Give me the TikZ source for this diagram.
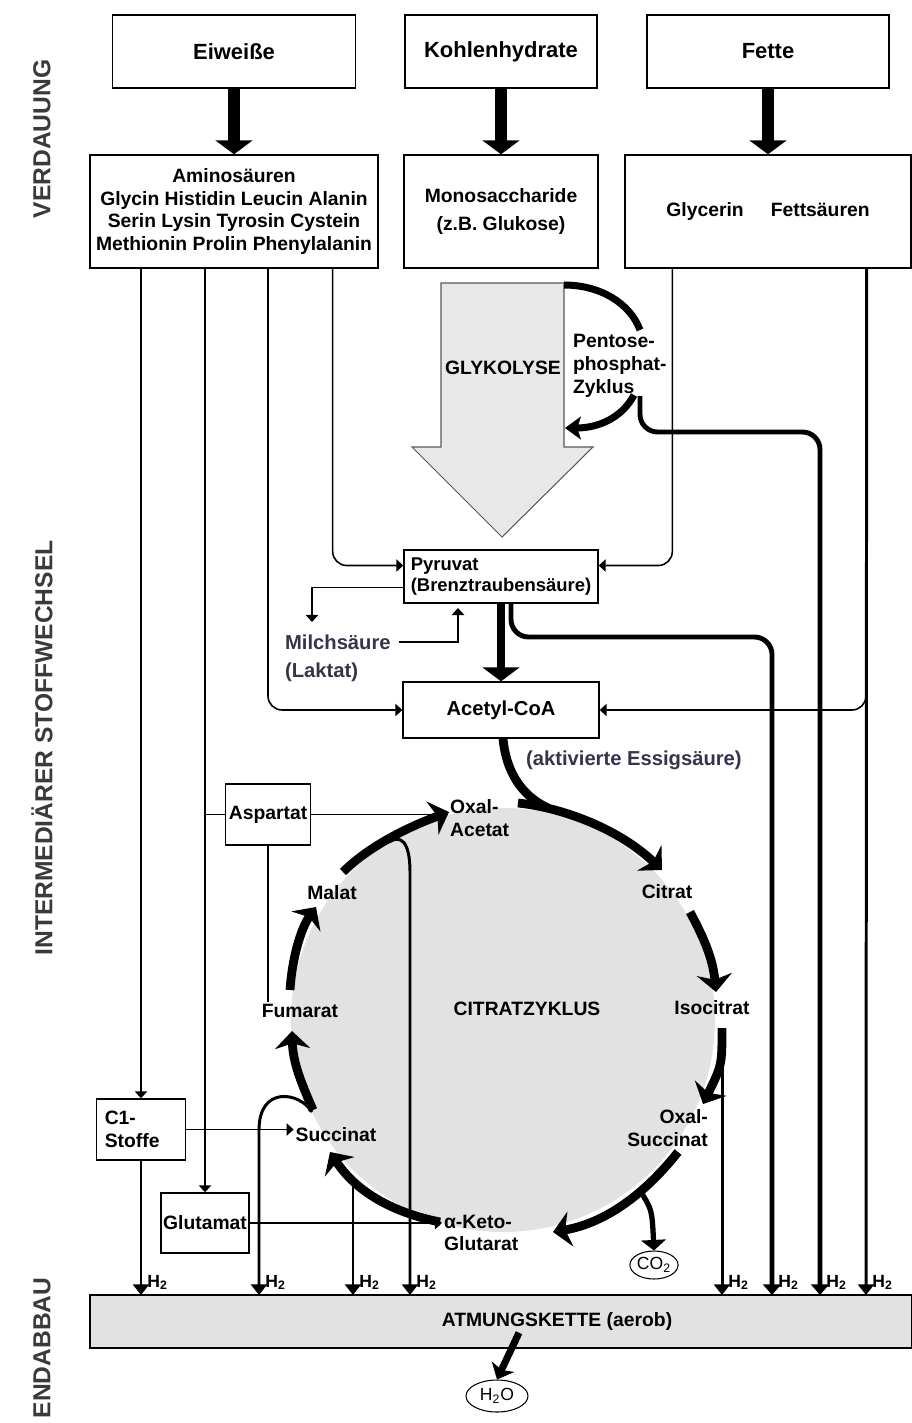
\documentclass[tikz,border=0pt]{standalone}
\usepackage{fontspec}
\setmainfont{Liberation Sans}
\usetikzlibrary{arrows.meta,shapes.geometric,calc}

\definecolor{cyclegray}{HTML}{E2E2E2}
\definecolor{glykgray}{HTML}{E8E8E8}
\definecolor{inkblue}{HTML}{34344A}
\definecolor{sidegray}{HTML}{3A3A3A}

\tikzset{
  lab/.style={font=\bfseries\fontsize{11}{13}\selectfont, inner sep=1pt},
  box/.style={draw, fill=white, line width=0.8pt, lab, align=center},
  topbox/.style={box, font=\bfseries\fontsize{12.5}{14}\selectfont, minimum height=1.46cm},
  thinline/.style={line width=0.9pt, -{Triangle[length=4pt,width=7pt]}},
  hline/.style={line width=1.7pt, -{Triangle[length=6pt,width=9pt]}},
  hthick/.style={line width=2.8pt, -{Triangle[length=6pt,width=10pt]}},
  bigarrow/.style={line width=6.5pt, -{Triangle[length=8pt,width=21pt]}},
  cyclearrow/.style={line width=5pt, -{Stealth[length=10pt,width=20pt,inset=3pt]}},
  sidelab/.style={font=\bfseries\fontsize{14}{16}\selectfont, text=sidegray, rotate=90},
  htext/.style={font=\bfseries\fontsize{10}{12}\selectfont, inner sep=0pt},
  gas/.style={draw, ellipse, line width=0.6pt, inner sep=0pt, font=\fontsize{10}{12}\selectfont}
}

\begin{document}
\begin{tikzpicture}[x=0.02cm,y=-0.02cm]
\useasboundingbox (0,0) rectangle (912,1423);

% side labels
\node [sidelab] (verd) at (42,139) {VERDAUUNG};
\node [sidelab] (inter) at (42,748) {INTERMEDIÄRER STOFFWECHSEL};
\node [sidelab] (endab) at (42,1348) {ENDABBAU};

% Verdauung
\node [topbox, minimum width=4.86cm] (eiw) at (234,51.5) {Eiweiße};
\node [topbox, minimum width=3.84cm] (kohl) at (501,51.5) {Kohlenhydrate};
\node [topbox, minimum width=4.84cm] (fett) at (768,51.5) {Fette};

\node [box, minimum width=5.76cm, minimum height=2.26cm] (amino) at (234,211.5) {Aminosäuren\\Glycin Histidin Leucin Alanin\\Serin Lysin Tyrosin Cystein\\Methionin Prolin Phenylalanin};
\node [box, minimum width=3.88cm, minimum height=2.26cm, font=\bfseries\fontsize{11}{16.5}\selectfont] (mono) at (501,211.5) {Monosaccharide\\(z.B. Glukose)};
\node [box, minimum width=5.72cm, minimum height=2.26cm] (glyc) at (768,211.5) {Glycerin\hspace{1.4em}Fettsäuren};

\draw [bigarrow] (eiw.south) -- (amino.north);
\draw [bigarrow] (kohl.south) -- (mono.north);
\draw [bigarrow] (fett.south) -- (glyc.north);

% Glykolyse
\draw [draw=gray!70!black, fill=glykgray, line width=0.6pt] (441,283) -- (564,283) -- (564,447) -- (593,447) -- (502,537) -- (412,447) -- (441,447) -- cycle;
\node [lab] (glyk) at (503,368) {GLYKOLYSE};
\node [lab, align=left, anchor=west] (ppz) at (571,366) {Pentose-\\phosphat-\\Zyklus};
\draw [line width=4pt] (564,285) .. controls (600,285) and (630,303) .. (640,330);
\draw [line width=4pt, -{Stealth[length=9pt,width=13pt,inset=2pt]}] (634,395) .. controls (622,418) and (598,428) .. (565,428);

% Pyruvat, Acetyl-CoA
\node [box, minimum width=3.88cm, minimum height=1.06cm, align=left, font=\bfseries\fontsize{10.5}{12}\selectfont] (pyr) at (501,576.5) {Pyruvat\\(Brenztraubensäure)};
\node [box, minimum width=3.92cm, minimum height=1.12cm, font=\bfseries\fontsize{11.5}{13}\selectfont] (acet) at (501,710) {Acetyl-CoA};
\draw [bigarrow, line width=5pt] (pyr.south) -- (acet.north);

\node [lab, text=inkblue, font=\bfseries\fontsize{11.5}{13}\selectfont, anchor=west] (milch) at (283,642) {Milchsäure};
\node [lab, text=inkblue, font=\bfseries\fontsize{11.5}{13}\selectfont, anchor=west] (lakt) at (283,672) {(Laktat)};
\node [lab, text=inkblue, font=\bfseries\fontsize{11.5}{13}\selectfont, anchor=west] (essig) at (524,760) {(aktivierte Essigsäure)};
\coordinate (milchin) at (312,622);
\coordinate (pyrin) at (458,608);
\draw [thinline] ($(pyr.west)+(0,11)$) -| (milchin);
\draw [thinline] ($(milch.east)+(6,0)$) -| (pyrin);

% side boxes
\node [box, minimum width=1.7cm, minimum height=1.22cm] (asp) at (268,814.5) {Aspartat};
\node [box, align=left, text width=1.45cm, minimum height=1.22cm, inner xsep=0.16cm] (cone) at (141,1129.5) {C1-\\Stoffe};
\node [box, minimum width=1.76cm, minimum height=1.2cm] (glut) at (205,1223) {Glutamat};

% H2 ends on the Atmungskette
\foreach \n/\x in {A/141,B/259,C/353,D/410,E/722,F/772,G/820,H/866} {
  \coordinate (h\n) at (\x,1295);
  \node [htext, anchor=south west] (hl\n) at (\x+6,1290) {H\textsubscript{2}};
}

% lines from Aminosaeuren
\draw [thinline] (amino.south -| cone.north) -- (cone.north);
\draw [thinline] (amino.south -| glut.north) -- (glut.north);
\draw [line width=0.9pt] (asp.west -| glut.north) -- (asp.west);
\draw [thinline, rounded corners=8pt] (amino.south -| asp.south) |- (acet.west);
\draw [thinline, rounded corners=8pt] ($(amino.south east)+(-46,0)$) |- ($(pyr.west)+(0,-11)$);

% lines from Glycerin/Fettsaeuren
\coordinate (fettbr) at (866,688);
\draw [thinline, rounded corners=8pt] ($(glyc.south west)+(48,0)$) |- ($(pyr.east)+(0,-11)$);
\draw [hline] ($(glyc.south east)+(-45,0)$) -- (hH);
\draw [thinline, rounded corners=8pt] (fettbr) |- (acet.east);

% Pentose and Pyruvat to H2
\coordinate (ppzend) at (640,396);
\draw [hthick, rounded corners=10pt] (ppzend) |- (820,432) -- (hG);
\draw [hthick, rounded corners=10pt] ($(pyr.south)+(10,0)$) |- (772,637) -- (hF);

% Citratzyklus
\fill [cyclegray] (503,1020) circle [radius=212];
\node [lab] (cyc) at (527,1009) {CITRATZYKLUS};
\node [lab, align=left, anchor=west] (oaa) at (448,818) {Oxal-\\Acetat};
\node [lab] (cit) at (667,892) {Citrat};
\node [lab] (iso) at (712,1008) {Isocitrat};
\node [lab, align=right, anchor=east] (osu) at (710,1128) {Oxal-\\Succinat};
\node [lab, align=left, anchor=west] (akg) at (442,1233) {α-Keto-\\Glutarat};
\node [lab] (succ) at (336,1135) {Succinat};
\node [lab] (fum) at (300,1011) {Fumarat};
\node [lab] (mal) at (332,893) {Malat};

\draw [line width=5pt] ($(acet.south)+(2,0)$) .. controls (506,770) and (520,795) .. (548,808);
\draw [cyclearrow] (343,872) .. controls (365,850) and (400,830) .. (449,812);
\draw [cyclearrow] (518,803) .. controls (565,808) and (620,830) .. (662,870);
\draw [cyclearrow] (690,912) .. controls (705,940) and (713,960) .. (716,992);
\coordinate (isoout) at (722,1028);
\draw [cyclearrow] (isoout) .. controls (722,1065) .. (703,1104);
\draw [cyclearrow] (678,1152) .. controls (640,1200) and (600,1224) .. (553,1232);
\draw [cyclearrow] (440,1222) .. controls (390,1212) and (355,1190) .. (330,1152);
\draw [cyclearrow] (313,1110) .. controls (300,1080) and (293,1062) .. (292,1031);
\draw [cyclearrow] (290,990) .. controls (292,960) and (300,930) .. (316,907);

\node [gas, minimum width=0.9cm, minimum height=0.56cm] (co2) at (654,1265) {CO\textsubscript{2}};
\draw [line width=3pt, -{Triangle[length=6pt,width=14pt]}] (641,1192) .. controls (652,1210) .. (co2.north);

\draw [line width=0.9pt] (asp.east) -- (asp.east -| oaa.west);
\draw [line width=0.9pt] (asp.south) -- (asp.south |- fum.north);
\draw [thinline] (cone.east) -- (cone.east -| succ.west);
\draw [thinline] (glut.east) -- (glut.east -| akg.west);

% lines to the Atmungskette
\draw [hline] (cone.south) -- (hA);
\draw [hline] (312,1112) .. controls (300,1092) and (259,1085) .. (259,1130) -- (hB);
\draw [hline] (353,1178) -- (hC);
\draw [hline] (389,842) .. controls (400,835) and (410,840) .. (410,872) -- (hD);
\draw [hline] (isoout) -- (hE);

% Endabbau
\node [box, fill=cyclegray, minimum width=16.44cm, minimum height=1.06cm] (atm) at (501,1321.5) {};
\node [lab] (atmtext) at (557,1321) {ATMUNGSKETTE (aerob)};
\node [gas, minimum width=1.24cm, minimum height=0.64cm] (h2o) at (497,1396) {H\textsubscript{2}O};
\draw [line width=4pt, -{Stealth[length=8pt,width=14pt,inset=2pt]}] ($(atm.south)+(18,-16)$) -- (h2o.north);

\end{tikzpicture}
\end{document}
